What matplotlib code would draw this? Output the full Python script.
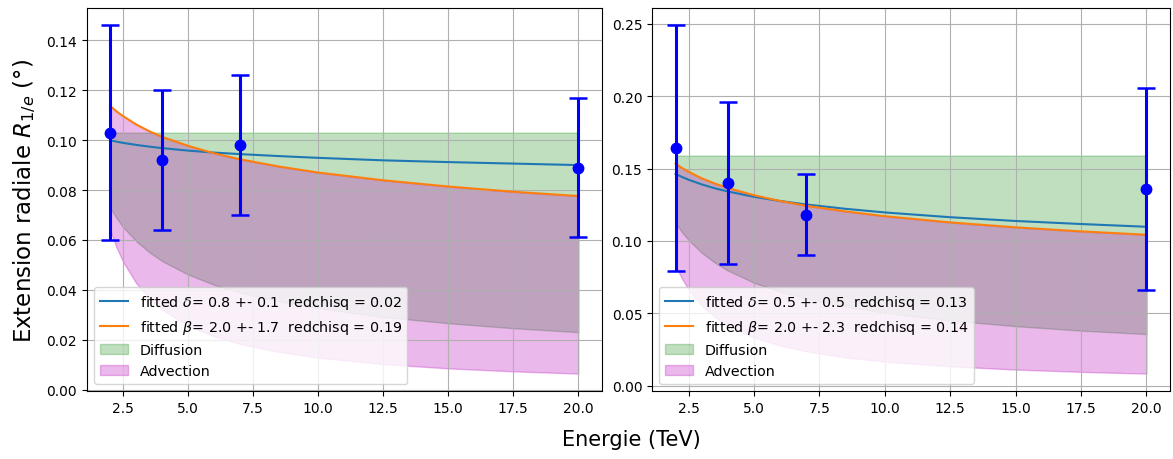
import matplotlib
matplotlib.use("Agg")
import matplotlib.pyplot as plt
import numpy as np

# ---------------- data ----------------
energies = [2, 4, 7, 20]

# left panel
left_r = [0.103, 0.092, 0.098, 0.089]
left_err = [0.043, 0.028, 0.028, 0.028]
# right panel
right_r = [0.164, 0.140, 0.118, 0.136]
right_err = [0.085, 0.056, 0.028, 0.070]

curve_e = [2, 2.25, 2.5, 3, 3.5, 4, 5, 6, 7, 8.5, 10, 12.5, 15, 17.5, 20]

left_fit_delta = [0.0999, 0.0994, 0.0989, 0.0981, 0.0974, 0.0968, 0.0958, 0.0950,
                  0.0944, 0.0936, 0.0929, 0.0919, 0.0912, 0.0906, 0.0900]
left_fit_beta = [0.1137, 0.1115, 0.1096, 0.1063, 0.1036, 0.1013, 0.0977, 0.0947,
                 0.0923, 0.0894, 0.0870, 0.0839, 0.0814, 0.0793, 0.0776]
left_diff_top = [0.103] * 15
left_diff_low = [0.0728, 0.0687, 0.0651, 0.0595, 0.0551, 0.0515, 0.0461, 0.0420,
                 0.0389, 0.0353, 0.0326, 0.0291, 0.0266, 0.0246, 0.0230]
left_adv_low = [0.0640, 0.0569, 0.0512, 0.0427, 0.0366, 0.0320, 0.0256, 0.0213,
                0.0183, 0.0151, 0.0128, 0.0102, 0.0085, 0.0073, 0.0064]

right_fit_delta = [0.1463, 0.1442, 0.1423, 0.1391, 0.1364, 0.1342, 0.1305, 0.1276,
                   0.1252, 0.1222, 0.1197, 0.1164, 0.1138, 0.1117, 0.1098]
right_fit_beta = [0.1534, 0.1504, 0.1478, 0.1433, 0.1397, 0.1366, 0.1316, 0.1276,
                  0.1243, 0.1204, 0.1171, 0.1128, 0.1094, 0.1066, 0.1043]
right_diff_top = [0.159] * 15
right_diff_low = [0.1124, 0.1060, 0.1006, 0.0918, 0.0850, 0.0795, 0.0711, 0.0649,
                  0.0601, 0.0545, 0.0503, 0.0450, 0.0411, 0.0380, 0.0356]
right_adv_low = [0.0830, 0.0738, 0.0664, 0.0553, 0.0474, 0.0415, 0.0332, 0.0277,
                 0.0237, 0.0195, 0.0166, 0.0133, 0.0111, 0.0095, 0.0083]

left_labels = [r"fitted $\delta$= 0.8 +- 0.1  redchisq = 0.02",
               r"fitted $\beta$= 2.0 +- 1.7  redchisq = 0.19"]
right_labels = [r"fitted $\delta$= 0.5 +- 0.5  redchisq = 0.13",
                r"fitted $\beta$= 2.0 +- 2.3  redchisq = 0.14"]

# ---------------- figure ----------------
fig = plt.figure(figsize=(11.73, 4.60), dpi=100)
W, H = 1173, 460
ax1 = fig.add_axes([86.7 / W, (H - 392) / H, 515 / W, 383 / H])
ax2 = fig.add_axes([652 / W, (H - 392) / H, 518 / W, 383 / H])


def draw(ax, r, err, fd, fb, dtop, dlow, alow, labels):
    ax.plot(curve_e, fd, color="C0", lw=1.5, label=labels[0], zorder=3)
    ax.plot(curve_e, fb, color="C1", lw=1.5, label=labels[1], zorder=3)
    ax.fill_between(curve_e, dlow, dtop, color="green", alpha=0.25, label="Diffusion")
    ax.fill_between(curve_e, alow, fb, color="#bc16bc", alpha=0.3, label="Advection")
    ax.errorbar(energies, r, yerr=err, fmt="o", color="blue", ms=7.5,
                elinewidth=2.2, capsize=6.5, capthick=1.8, zorder=4)
    ax.grid(True)
    ax.legend(loc="lower left", fontsize=10.3)


draw(ax1, left_r, left_err, left_fit_delta, left_fit_beta,
     left_diff_top, left_diff_low, left_adv_low, left_labels)
draw(ax2, right_r, right_err, right_fit_delta, right_fit_beta,
     right_diff_top, right_diff_low, right_adv_low, right_labels)

ax1.set_ylabel(r"Extension radiale $R_{1/e}$ (°)", fontsize=16.5, labelpad=6)
fig.text(631 / W, 1 - 440 / H, "Energie (TeV)", fontsize=15, ha="center", va="center")

fig.savefig("out.png", dpi=100)
